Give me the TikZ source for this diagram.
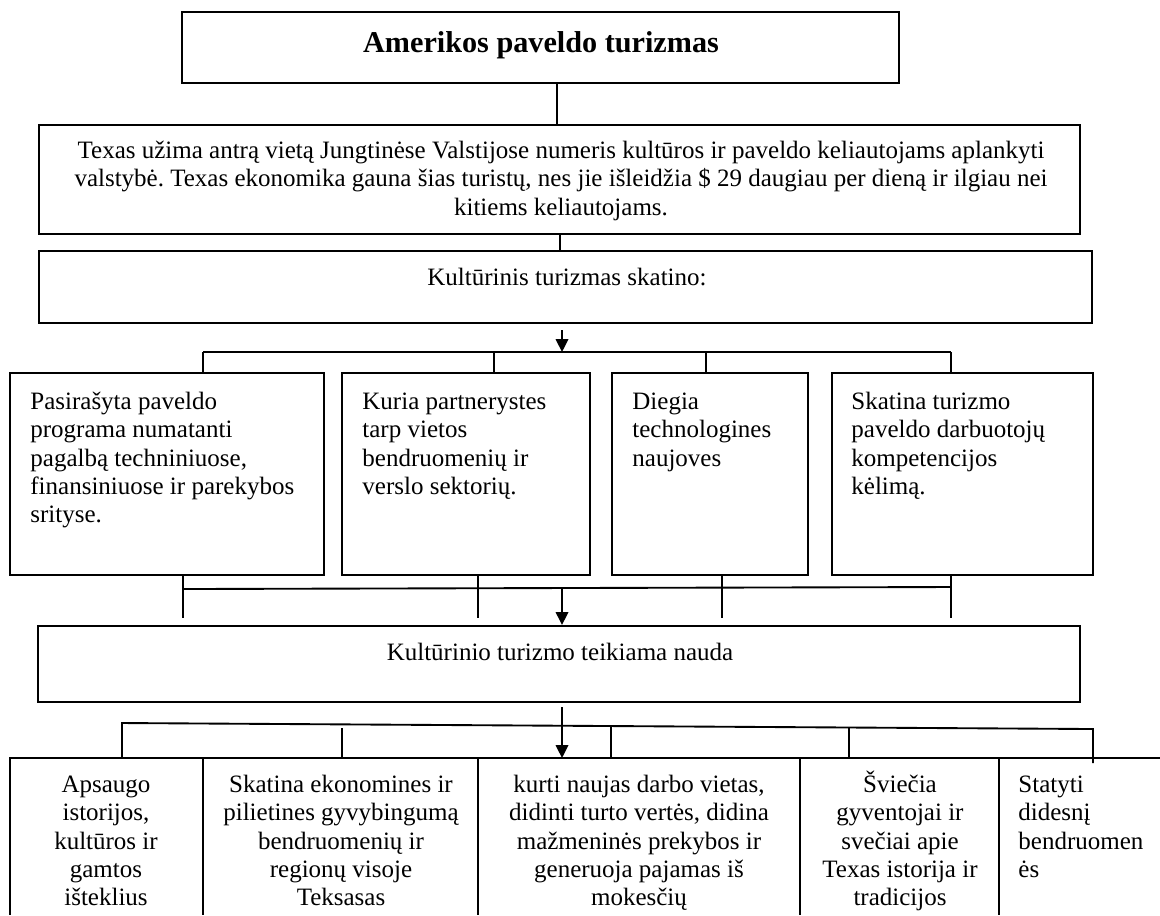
\documentclass[tikz,border=0pt]{standalone}
\usepackage{fontspec}
\setmainfont{Liberation Serif}
\usetikzlibrary{arrows.meta,fit}
\newcommand{\mystrut}{\rule{0pt}{12pt}}
\frenchspacing
\begin{document}
\begin{tikzpicture}[x=0.48pt,y=-0.48pt,
  box/.style={draw,line width=1pt,inner sep=0pt},
  txt/.style={inner sep=0pt,font=\fontsize{12}{13.6}\selectfont},
  ln/.style={line width=0.9pt},
  arr/.style={line width=0.9pt,-{Triangle[length=6.2pt,width=6pt]}}]
\useasboundingbox (0,0) rectangle (1160,915);

% boxes
\node[box,fit={(182,12) (899,83)}] (top) {};
\node[box,fit={(39,125) (1080,234)}] (b2) {};
\node[box,fit={(39,251) (1092,323)}] (b3) {};
\node[box,fit={(10,373) (324,575)}] (bA) {};
\node[box,fit={(342,373) (590,575)}] (bB) {};
\node[box,fit={(612,373) (808,575)}] (bC) {};
\node[box,fit={(832,373) (1093,575)}] (bD) {};
\node[box,fit={(38,626) (1080,702)}] (b4) {};

% texts
\node[inner sep=0pt,anchor=base,font=\fontsize{14.5}{17}\selectfont\bfseries] (ttitle) at (541,52) {Amerikos paveldo turizmas};
\node[txt,align=center,anchor=north] (t2) at (561,133) {\mystrut Texas užima antrą vietą Jungtinėse Valstijose numeris kultūros ir paveldo keliautojams aplankyti\\valstybė. Texas ekonomika gauna šias turistų, nes jie išleidžia \$ 29 daugiau per dieną ir ilgiau nei\\kitiems keliautojams.};
\node[txt,anchor=base] (t3) at (567,285) {Kultūrinis turizmas skatino:};
\node[txt,align=left,anchor=north west] (tA) at (30,384) {\mystrut Pasirašyta paveldo\\programa numatanti\\pagalbą techniniuose,\\finansiniuose ir parekybos\\srityse.};
\node[txt,align=left,anchor=north west] (tB) at (362,384) {\mystrut Kuria partnerystes\\tarp vietos\\bendruomenių ir\\verslo sektorių.};
\node[txt,align=left,anchor=north west] (tC) at (632,384) {\mystrut Diegia\\technologines\\naujoves};
\node[txt,align=left,anchor=north west] (tD) at (851,384) {\mystrut Skatina turizmo\\paveldo darbuotojų\\kompetencijos\\kėlimą.};
\node[txt,anchor=base] (t4) at (560,660) {Kultūrinio turizmo teikiama nauda};

% top connectors
\coordinate (k1) at (557,0);
\coordinate (k2) at (560,0);
\draw[ln] (top.south -| k1) -- (b2.north -| k1);
\draw[ln] (b2.south -| k2) -- (b3.north -| k2);

% upper bus
\coordinate (busL) at (203,352);
\coordinate (busR) at (951,352);
\coordinate (bus1) at (562,352);
\coordinate (u2) at (494,352);
\coordinate (u3) at (706,352);
\draw[arr] ([yshift=-2.9pt]b3.south -| bus1) -- (bus1);
\draw[ln] (busL) -- (busR);
\draw[ln] (busL) -- (bA.north -| busL);
\draw[ln] (u2) -- (bB.north -| u2);
\draw[ln] (u3) -- (bC.north -| u3);
\draw[ln] (busR) -- (bD.north -| busR);

% lower bus
\coordinate (lb1) at (183,589);
\coordinate (lb4) at (951,587);
\coordinate (d2) at (478,0);
\coordinate (d3) at (722,0);
\coordinate (m2) at (562,587);
\draw[ln] (lb1) -- (lb4);
\draw[ln] (bA.south -| lb1) -- ([yshift=3.4pt]b4.north -| lb1);
\draw[ln] (bB.south -| d2) -- ([yshift=3.4pt]b4.north -| d2);
\draw[ln] (bC.south -| d3) -- ([yshift=3.4pt]b4.north -| d3);
\draw[ln] (bD.south -| lb4) -- ([yshift=3.4pt]b4.north -| lb4);
\draw[arr] (m2) -- (b4.north -| m2);

% bottom row
\coordinate (r0) at (10,758);
\coordinate (r6) at (1160,758);
\coordinate (v1) at (203,758);
\coordinate (v2) at (478,758);
\coordinate (v3) at (800,758);
\coordinate (v4) at (999,758);
\draw[line width=1pt] (r6) -- (r0) -- (10,915);
\foreach \v in {v1,v2,v3,v4} \draw[line width=1pt] (\v) -- (\v |- 0,915);

% bus 2
\coordinate (p1) at (122,723);
\coordinate (p5) at (1093,729);
\coordinate (q2) at (342,728);
\coordinate (q3) at (611,727);
\coordinate (q4) at (849,728);
\coordinate (m3) at (562,0);
\draw[arr] ([yshift=-1.9pt]b4.south -| m3) -- (r0 -| m3);
\draw[ln] (p1 |- r0) -- (p1) -- (p5) -- (1093,763);
\draw[ln] (q2) -- (q2 |- r0);
\draw[ln] (q3) -- (q3 |- r0);
\draw[ln] (q4) -- (q4 |- r0);

% cell texts
\node[txt,align=center,anchor=north] (c1) at (106,767) {\mystrut Apsaugo\\istorijos,\\kultūros ir\\gamtos\\išteklius};
\node[txt,align=center,anchor=north] (c2) at (341,767) {\mystrut Skatina ekonomines ir\\pilietines gyvybingumą\\bendruomenių ir\\regionų visoje\\Teksasas};
\node[txt,align=center,anchor=north] (c3) at (639,767) {\mystrut kurti naujas darbo vietas,\\didinti turto vertės, didina\\mažmeninės prekybos ir\\generuoja pajamas iš\\mokesčių};
\node[txt,align=center,anchor=north] (c4) at (900,767) {\mystrut Šviečia\\gyventojai ir\\svečiai apie\\Texas istorija ir\\tradicijos};
\node[txt,align=left,anchor=north west] (c5) at (1018,767) {\mystrut Statyti\\didesnį\\bendruomen\\ės};
\end{tikzpicture}
\end{document}
